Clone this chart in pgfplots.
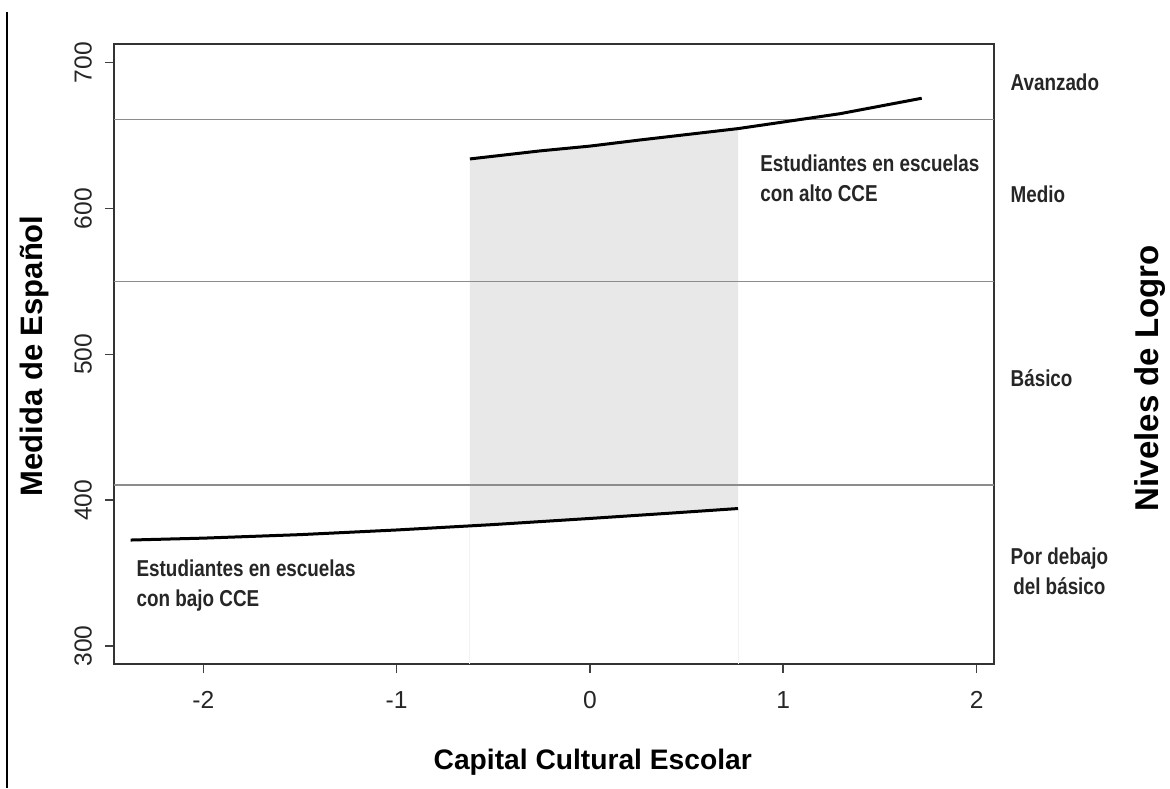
\documentclass[border=0pt]{standalone}
\usepackage{fontspec}
\setmainfont{Liberation Sans}
\newfontfamily\narrowbf[FakeStretch=0.82]{Liberation Sans Bold}
\usepackage{pgfplots}
\pgfplotsset{compat=1.18}
\definecolor{levelline}{HTML}{8C8C8C}
\definecolor{shade}{HTML}{E8E8E8}
\begin{document}
\begin{tikzpicture}
% 1 px of the reference = 0.5pt
\path[use as bounding box] (-57pt,-62pt) rectangle (528pt,332pt);
\draw[line width=1pt] (-53.5pt,-62pt) -- (-53.5pt,326pt);
\begin{axis}[
  at={(0,0)}, anchor=south west,
  scale only axis, width=440pt, height=310pt,
  xmin=-2.462, xmax=2.09, ymin=287.7, ymax=712.8,
  xtick={-2,-1,0,1,2}, ytick={300,400,500,600,700},
  xticklabels={-2,-1,0,1,2},
  tick align=outside, tick pos=left,
  major tick length=4.5pt,
  tick style={line width=0.8pt, color=black!75},
  axis line style={line width=1pt, color=black!80},
  /pgf/number format/assume math mode=true,
  ticklabel style={font=\fontsize{12.3}{14}\selectfont, color=black!85},
  xticklabel style={yshift=-5.5pt},
  yticklabel style={xshift=-3pt, rotate=90, anchor=south},
  clip=false,
]
% shaded band between the two groups
\addplot[fill=shade, draw=none] coordinates {
  (-0.621,634.0) (-0.259,639.5) (0,642.8) (0.259,647.0) (0.766,654.8)
  (0.766,394.3) (0.4,391.0) (0,387.5) (-0.5,383.3) (-0.621,382.4)
} -- cycle;
\addplot[draw=black!5, line width=0.5pt] coordinates {(-0.621,287.7) (-0.621,382.4)};
\addplot[draw=black!5, line width=0.5pt] coordinates {(0.766,287.7) (0.766,394.3)};
% level cut points
\addplot[levelline, line width=0.7pt] coordinates {(-2.462,661) (2.09,661)};
\addplot[levelline, line width=0.7pt] coordinates {(-2.462,550) (2.09,550)};
\addplot[levelline, line width=0.7pt] coordinates {(-2.462,410.5) (2.09,410.5)};
% low CCE schools
\addplot[black, line width=1.5pt] coordinates {
  (-2.376,372.7) (-2.0,374.0) (-1.5,376.4) (-1.0,379.6)
  (-0.5,383.3) (0,387.5) (0.4,391.0) (0.766,394.3)
};
% high CCE schools
\addplot[black, line width=1.5pt] coordinates {
  (-0.621,634.0) (-0.259,639.5) (0,642.8) (0.259,647.0)
  (0.766,654.8) (1.293,665.0) (1.716,675.6)
};
\node[anchor=west, align=left, inner sep=0pt, font=\narrowbf\fontsize{11.5}{15}\selectfont, color=black!85]
  at (axis cs:-2.347,341.6) {Estudiantes en escuelas\\con bajo CCE};
\node[anchor=west, align=left, inner sep=0pt, font=\narrowbf\fontsize{11.5}{15}\selectfont, color=black!85]
  at (axis cs:0.879,621) {Estudiantes en escuelas\\con alto CCE};
% achievement levels
\tikzset{lvl/.style={anchor=west, inner sep=0pt, align=center, font=\narrowbf\fontsize{11.5}{15}\selectfont, color=black!85}}
\node[lvl] at (axis cs:2.174,686.3) {Avanzado};
\node[lvl] at (axis cs:2.174,609.7) {Medio};
\node[lvl] at (axis cs:2.174,484) {Básico};
\node[lvl] at (axis cs:2.174,351) {Por debajo\\del básico};
% axis titles
\node[rotate=90, font=\bfseries\fontsize{15.5}{18}\selectfont] at (rel axis cs:-0.0898,0.497) {Medida de Español};
\node[rotate=90, font=\bfseries\fontsize{16.5}{19}\selectfont] at (rel axis cs:1.177,0.461) {Niveles de Logro};
\node[font=\bfseries\fontsize{14.1}{17}\selectfont] at (rel axis cs:0.544,-0.158) {Capital Cultural Escolar};
\end{axis}
\end{tikzpicture}
\end{document}
